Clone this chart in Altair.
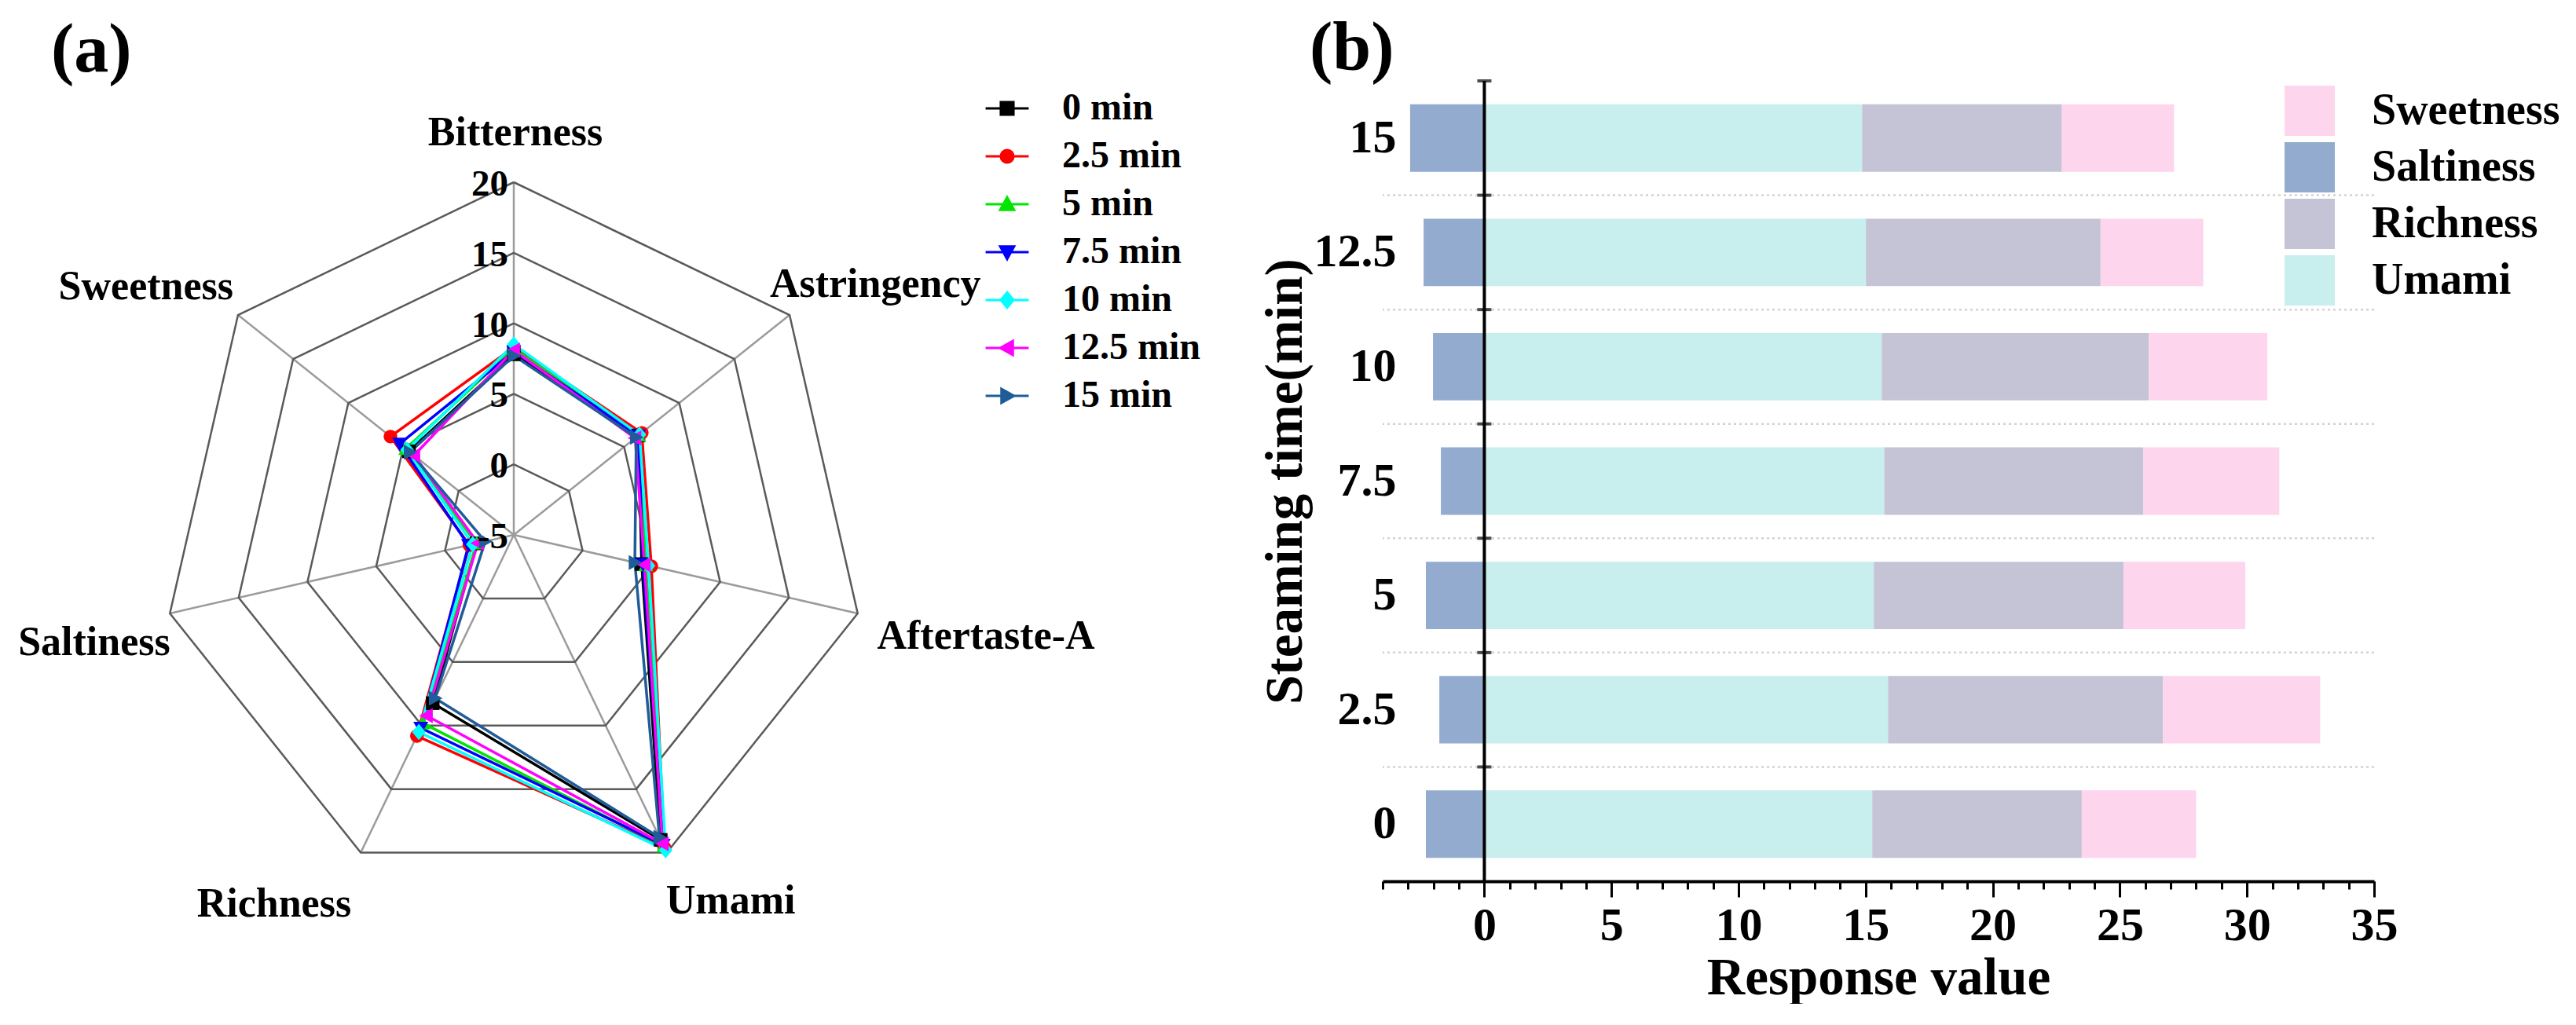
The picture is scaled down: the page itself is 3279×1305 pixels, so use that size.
import math

import altair as alt
import pandas as pd

# ---------------- (a) radar: taste values per steaming time ----------------
tastes = ["Bitterness", "Astringency", "Aftertaste-A", "Umami",
          "Richness", "Saltiness", "Sweetness"]
series = ["0 min", "2.5 min", "5 min", "7.5 min", "10 min", "12.5 min", "15 min"]
bitterness = [7.8, 8.3, 8.2, 8.0, 8.5, 8.1, 7.7]
astringency = [6.3, 6.6, 6.3, 6.3, 6.4, 6.0, 6.1]
aftertaste_a = [4.3, 5.0, 4.6, 4.4, 4.8, 4.5, 3.8]
umami_radar = [19.0, 19.6, 19.5, 19.4, 19.8, 19.3, 18.8]
richness = [8.24, 10.82, 9.82, 10.19, 10.51, 9.23, 7.86]
saltiness = [-2.30, -1.77, -2.30, -1.71, -2.02, -2.39, -2.92]
sweetness = [4.50, 6.18, 4.79, 5.35, 4.66, 4.04, 4.41]
ring_levels = [-5, 0, 5, 10, 15, 20]

# ---------------- (b) stacked bars ----------------
steam_times = ["0", "2.5", "5", "7.5", "10", "12.5", "15"]
umami_bar = [15.26, 15.88, 15.32, 15.73, 15.63, 15.01, 14.86]
bar_tastes = ["Sweetness", "Saltiness", "Richness", "Umami"]  # legend order
stack_order = ["Umami", "Richness", "Sweetness", "Saltiness"]
major_ticks = list(range(0, 36, 5))
minor_ticks = list(range(-4, 36))

# ---------------- styles ----------------
FONT = "Liberation Serif"
series_colors = ["#000000", "#FF0000", "#00E600", "#0000FF", "#00FFFF", "#FF00FF", "#1F5C99"]
marker_paths = [
    "M-1,-1H1V1H-1Z",
    "M1,0A1,1,0,1,1,-1,0A1,1,0,1,1,1,0Z",
    "M0,-1.1L1.1,0.9H-1.1Z",
    "M0,1.1L1.1,-0.9H-1.1Z",
    "M0,-1.2L1,0L0,1.2L-1,0Z",
    "M-1.1,0L0.9,-1.1V1.1Z",
    "M1.1,0L-0.9,-1.1V1.1Z",
]
legend_paths = [p + "M-3.4,0H3.4" for p in marker_paths]
bar_colors = ["#FDD5EC", "#93ABCF", "#C5C4D6", "#C9EEEE"]

RW, RH = 1590, 1019   # plot area of panel (a)
CX, CY = 646, 578     # radar centre inside it (px)
PX = 17.96            # px per radar unit
LABEL_R = 28.5        # radius of the taste labels (radar units)
label_nudge = {
    "Bitterness": (2, 0), "Astringency": (60, 0), "Aftertaste-A": (102, 15),
    "Umami": (54, 5), "Richness": (-83, 9), "Saltiness": (-35, 23),
    "Sweetness": (-68, 3),
}

# ---------------- radar frames ----------------
radar_cols = [bitterness, astringency, aftertaste_a, umami_radar, richness, saltiness, sweetness]
n = len(tastes)
r0 = ring_levels[0]


def polar(r, k):
    a = 2 * math.pi * k / n
    return r * math.sin(a), r * math.cos(a)


rows = []
for i, s in enumerate(series):
    for k in range(n + 1):
        v = radar_cols[k % n][i]
        x, y = polar(v - r0, k)
        rows.append({"series": s, "taste": tastes[k % n], "value": v, "k": k, "x": x, "y": y})
radar_df = pd.DataFrame(rows)
vertex_df = radar_df[radar_df["k"] < n]

rows = []
for lev in ring_levels[1:]:
    for k in range(n + 1):
        x, y = polar(lev - r0, k)
        rows.append({"level": lev, "k": k, "x": x, "y": y})
ring_df = pd.DataFrame(rows)

outer = ring_levels[-1] - r0
spoke_df = pd.DataFrame([
    {"taste": t, "x": 0.0, "y": 0.0, "x2": polar(outer, k)[0], "y2": polar(outer, k)[1]}
    for k, t in enumerate(tastes)
])
ring_lab_df = pd.DataFrame({"label": [str(v) for v in ring_levels], "x": 0.0,
                            "y": [v - r0 for v in ring_levels]})
lab_df = pd.DataFrame([
    {"taste": t, "x": polar(LABEL_R, k)[0], "y": polar(LABEL_R, k)[1]}
    for k, t in enumerate(tastes)
])

xs = alt.Scale(domain=[-CX / PX, (RW - CX) / PX], nice=False, zero=False)
ys = alt.Scale(domain=[-(RH - CY) / PX, CY / PX], nice=False, zero=False)
rx = alt.X("x:Q", scale=xs, axis=None)
ry = alt.Y("y:Q", scale=ys, axis=None)
color_scale = alt.Scale(domain=series, range=series_colors)

spokes = alt.Chart(spoke_df).mark_rule(color="#9b9b9b", strokeWidth=2.5).encode(
    x=rx, y=ry, x2="x2:Q", y2="y2:Q")
rings = alt.Chart(ring_df).mark_line(color="#5a5a5a", strokeWidth=2.5).encode(
    x=rx, y=ry, detail="level:N", order="k:Q")

lines = alt.Chart(radar_df).mark_line(strokeWidth=3.5).encode(
    x=rx, y=ry, color=alt.Color("series:N", scale=color_scale), order="k:Q")

# one point layer per series so each keeps its own marker
point_layers = []
for s, path in zip(series, marker_paths):
    point_layers.append(
        alt.Chart(vertex_df).transform_filter(alt.datum.series == s).mark_point(
            shape=path, filled=True, size=300, opacity=1).encode(
            x=rx, y=ry, color=alt.Color("series:N", scale=color_scale)))

# legend symbols: marker with a short line through it, stroked in the series colour
pick = "[" + ",".join(f"'{c}'" for c in series_colors) + "][indexof([" + \
       ",".join(f"'{s}'" for s in series) + "], datum.value)]"
radar_leg = alt.Legend(title=None, orient="none", legendX=1250, legendY=11,
                       direction="vertical", padding=0, symbolSize=260,
                       symbolStrokeWidth=3, symbolStrokeColor={"expr": pick},
                       symbolOpacity=1, labelFont=FONT, labelFontSize=48,
                       labelFontWeight="bold", labelColor="black", labelOffset=46,
                       rowPadding=13, labelLimit=0)
legend_layer = alt.Chart(vertex_df).mark_point(filled=True, opacity=0).encode(
    x=rx, y=ry,
    color=alt.Color("series:N", scale=color_scale, legend=radar_leg),
    shape=alt.Shape("series:N", scale=alt.Scale(domain=series, range=legend_paths),
                    legend=radar_leg))

ring_labels = alt.Chart(ring_lab_df).mark_text(
    align="right", baseline="middle", dx=-7, dy=3, font=FONT, fontSize=47,
    fontWeight="bold", color="black").encode(x=rx, y=ry, text="label:N")

taste_labels = []
for t in tastes:
    dx, dy = label_nudge[t]
    taste_labels.append(
        alt.Chart(lab_df).transform_filter(alt.datum.taste == t).mark_text(
            align="center", baseline="middle", dx=dx, dy=dy, font=FONT, fontSize=52,
            fontWeight="bold", color="black").encode(x=rx, y=ry, text="taste:N"))

title_style = dict(anchor="start", frame="group", font=FONT, fontSize=88,
                   fontWeight="bold", color="black", baseline="top", offset=-6)

radar = alt.layer(
    spokes, rings, lines, *point_layers, legend_layer, ring_labels, *taste_labels
).properties(width=RW, height=RH, title=alt.TitleParams("(a)", dx=57, **title_style))

# ---------------- bar frames ----------------
bar_vals = {"Umami": umami_bar, "Richness": richness, "Sweetness": sweetness, "Saltiness": saltiness}
rows = []
for i, t in enumerate(steam_times):
    for taste in stack_order:
        rows.append({"time": t, "taste": taste, "value": bar_vals[taste][i],
                     "stack": stack_order.index(taste)})
bar_df = pd.DataFrame(rows)
time_order = steam_times[::-1]

ysc = alt.Scale(paddingInner=0, paddingOuter=0)
xsc = alt.Scale(domain=[-4, 35], nice=False, zero=False)
y_axis = alt.Axis(title="Steaming time(min)", domain=False, ticks=False, tickSize=0,
                  labelPadding=-17, labelFont=FONT, labelFontSize=60, labelFontWeight="bold",
                  labelColor="black", titleFont=FONT, titleFontSize=67, titleFontWeight="bold",
                  titleColor="black", titlePadding=2, grid=False)
x_axis = alt.Axis(orient="bottom", values=major_ticks, domainColor="black", domainWidth=4,
                  tickColor="black", tickWidth=3, tickSize=20, labelFont=FONT,
                  labelFontSize=60, labelFontWeight="bold", labelColor="black",
                  labelPadding=7, labelFlush=False, labelOverlap=False,
                  title="Response value", titleFont=FONT, titleFontSize=67,
                  titleFontWeight="bold", titleColor="black", titlePadding=4, grid=False)
x_minor = alt.Axis(orient="bottom", values=minor_ticks, domain=False, labels=False,
                   tickColor="black", tickWidth=3, tickSize=10, title=None, grid=False)
by = alt.Y("time:N", sort=time_order, scale=ysc, axis=y_axis)
by_edge = alt.Y("time:N", sort=time_order, scale=ysc, axis=y_axis, bandPosition=0)

bar_leg = alt.Legend(title=None, orient="none", legendX=1148, legendY=6, padding=0,
                     symbolType="square", symbolSize=4096, symbolStrokeWidth=0,
                     symbolOpacity=1, labelFont=FONT, labelFontSize=56,
                     labelFontWeight="bold", labelColor="black", labelOffset=47,
                     rowPadding=8, labelLimit=0)

grid = alt.Chart(pd.DataFrame({"time": steam_times[:-1]})).mark_rule(
    strokeDash=[3, 4], color="#d2d2d2", strokeWidth=2.5).encode(y=by_edge)

bars = alt.Chart(bar_df).mark_bar(height={"band": 0.59}).encode(
    x=alt.X("value:Q", stack="zero", scale=xsc, axis=x_axis),
    y=by,
    color=alt.Color("taste:N", scale=alt.Scale(domain=bar_tastes, range=bar_colors), legend=bar_leg),
    order=alt.Order("stack:Q"))

zero_line = alt.Chart(pd.DataFrame({"value": [0]})).mark_rule(
    color="black", strokeWidth=4).encode(x=alt.X("value:Q", scale=xsc, axis=x_minor))

band_ticks = alt.Chart(pd.DataFrame({"time": steam_times, "value": 0})).mark_tick(
    orient="horizontal", size=18, thickness=4, color="black").encode(
    x=alt.X("value:Q", scale=xsc, axis=None), y=by_edge)

bar = alt.layer(grid, bars, zero_line, band_ticks).resolve_axis(x="independent").properties(
    width=1262, height=1019, title=alt.TitleParams("(b)", dx=-93, **title_style))

chart = alt.hconcat(radar, bar, spacing=162, bounds="flush").resolve_scale(
    color="independent", shape="independent"
).properties(
    padding={"left": 0, "top": 10, "right": 0, "bottom": 0}
).configure_view(stroke=None).configure_axis(labelOverlap=False)

chart.save("out.html", embed_options={"renderer": "svg", "actions": False})
